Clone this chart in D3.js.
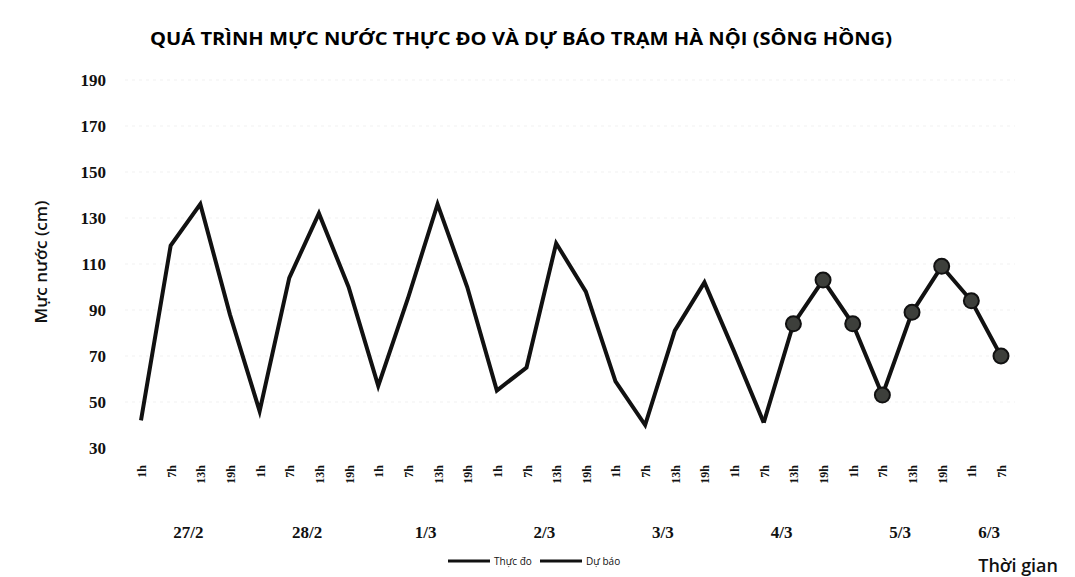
<!DOCTYPE html>
<html>
<head>
<meta charset="utf-8">
<script src="https://cdn.jsdelivr.net/npm/d3@7"></script>
<style>
  body { margin: 0; background: #fff; }
  svg { display: block; }
</style>
</head>
<body>
<svg id="chart" width="1075" height="577"></svg>
<script>
// hour labels along the x axis (30 slots, 6h apart)
const hours = ["1h","7h","13h","19h","1h","7h","13h","19h","1h","7h","13h","19h",
               "1h","7h","13h","19h","1h","7h","13h","19h","1h","7h","13h","19h",
               "1h","7h","13h","19h","1h","7h"];
// day labels and the slot they are centred on
const days = ["27/2","28/2","1/3","2/3","3/3","4/3","5/3","6/3"];
const dayCenters = [1.5, 5.5, 9.5, 13.5, 17.5, 21.5, 25.5, 28.5];
// measured water level (cm), slots 0..21
const observed = [42,118,136,88,46,104,132,100,57,95,136,100,55,65,119,98,59,40,81,102,72,41];
// forecast water level (cm), slots 22..29
const forecast = [84,103,84,53,89,109,94,70];
const yTicks = [30,50,70,90,110,130,150,170,190];

const svg = d3.select("#chart");

const x = d3.scaleLinear().domain([0, hours.length - 1]).range([141, 1001]);
const y = d3.scaleLinear().domain([30, 190]).range([448, 80]);

// faint grid
svg.append("g").selectAll("line")
    .data(yTicks.slice(1))
    .enter().append("line")
    .attr("x1", 125).attr("x2", 1015)
    .attr("y1", d => y(d)).attr("y2", d => y(d))
    .attr("stroke", "#f1f1f1")
    .attr("stroke-dasharray", "3,4");

// title
svg.append("text")
    .attr("x", 521).attr("y", 45)
    .attr("text-anchor", "middle")
    .attr("font-family", "Open Sans")
    .attr("font-weight", "bold")
    .attr("font-size", 17)
    .attr("textLength", 742)
    .attr("lengthAdjust", "spacingAndGlyphs")
    .text("QUÁ TRÌNH MỰC NƯỚC THỰC ĐO VÀ DỰ BÁO TRẠM HÀ NỘI (SÔNG HỒNG)");

// y axis
const yAxis = d3.axisLeft(y).tickValues(yTicks).tickSize(0).tickPadding(0);
const gy = svg.append("g").attr("transform", "translate(106,0)").call(yAxis);
gy.select(".domain").remove();
gy.selectAll("text")
    .attr("font-family", "Liberation Serif")
    .attr("font-size", 17)
    .attr("font-weight", "bold")
    .attr("fill", "#111");

svg.append("text")
    .attr("transform", "translate(47,262) rotate(-90)")
    .attr("text-anchor", "middle")
    .attr("font-family", "Open Sans")
    .attr("font-size", 17)
    .attr("font-weight", 600)
    .attr("fill", "#111")
    .text("Mực nước (cm)");

// hour labels (rotated)
svg.append("g").selectAll("text")
    .data(hours)
    .enter().append("text")
    .attr("transform", (d, i) => "translate(" + (x(i) + 5) + ",465) rotate(-90)")
    .attr("text-anchor", "end")
    .attr("font-family", "Liberation Serif")
    .attr("font-size", 12)
    .attr("font-weight", "bold")
    .attr("fill", "#111")
    .text(d => d);

// day labels
svg.append("g").selectAll("text")
    .data(days)
    .enter().append("text")
    .attr("x", (d, i) => x(dayCenters[i]) + 3)
    .attr("y", 538)
    .attr("text-anchor", "middle")
    .attr("font-family", "Liberation Serif")
    .attr("font-size", 17)
    .attr("font-weight", "bold")
    .attr("fill", "#111")
    .text(d => d);

// lines
const line = d3.line().x(d => x(d[0])).y(d => y(d[1]));
const obsPts = observed.map((v, i) => [i, v]);
const fcPts = forecast.map((v, i) => [observed.length + i, v]);

svg.append("path")
    .datum(obsPts)
    .attr("fill", "none")
    .attr("stroke", "#111")
    .attr("stroke-width", 4)
    .attr("stroke-linejoin", "miter")
    .attr("d", line);

svg.append("path")
    .datum([obsPts[obsPts.length - 1]].concat(fcPts))
    .attr("fill", "none")
    .attr("stroke", "#111")
    .attr("stroke-width", 4)
    .attr("d", line);

svg.append("g").selectAll("circle")
    .data(fcPts)
    .enter().append("circle")
    .attr("cx", d => x(d[0]))
    .attr("cy", d => y(d[1]))
    .attr("r", 7.5)
    .attr("fill", "#3d3f3b")
    .attr("stroke", "#111")
    .attr("stroke-width", 2);

// legend
const legend = [["Thực đo", 448], ["Dự báo", 540]];
const lg = svg.append("g");
legend.forEach(function(l) {
    lg.append("line")
        .attr("x1", l[1]).attr("x2", l[1] + 42)
        .attr("y1", 561).attr("y2", 561)
        .attr("stroke", "#111").attr("stroke-width", 3);
    lg.append("text")
        .attr("x", l[1] + 46).attr("y", 565)
        .attr("font-family", "Open Sans")
        .attr("font-size", 10)
        .attr("fill", "#111")
        .text(l[0]);
});

svg.append("text")
    .attr("x", 1058).attr("y", 572)
    .attr("text-anchor", "end")
    .attr("font-family", "Open Sans")
    .attr("font-size", 18)
    .attr("font-weight", 600)
    .attr("fill", "#111")
    .text("Thời gian");
</script>
</body>
</html>
